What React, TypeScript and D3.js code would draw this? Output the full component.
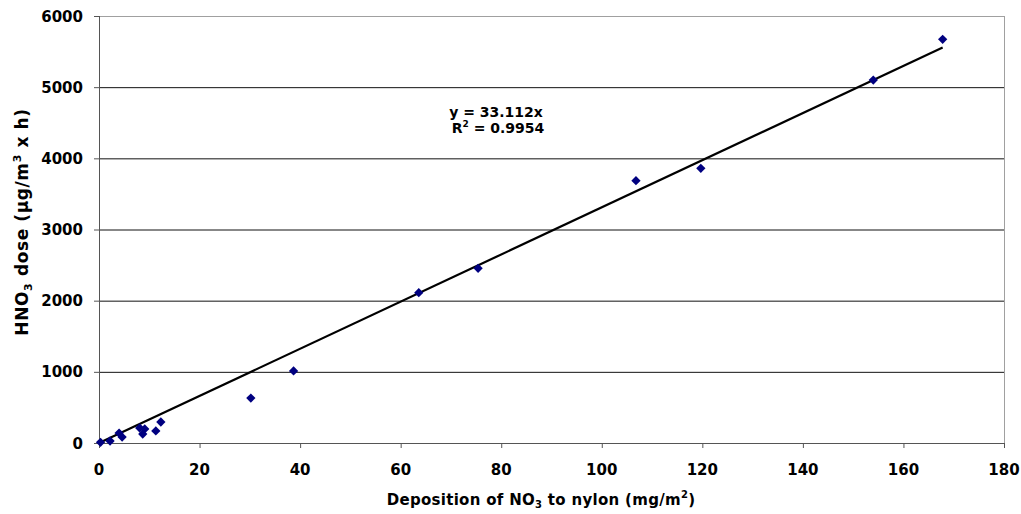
import React, { useEffect, useRef } from "react";
import * as d3 from "d3";

const depositionX = [0.3, 2.2, 4.0, 4.6, 8.1, 9.1, 8.7, 11.3, 12.3, 30.2, 38.7, 63.6, 75.4, 106.8, 119.7, 154.0, 167.8];
const doseY = [10, 28, 140, 84, 211, 197, 126, 169, 295, 632, 1012, 2112, 2455, 3686, 3860, 5100, 5672];
const slope = 33.112;
const xTicks = [0, 20, 40, 60, 80, 100, 120, 140, 160, 180];
const yTicks = [0, 1000, 2000, 3000, 4000, 5000, 6000];

const W = 1021, H = 514;
const FONT = "'DejaVu Sans', Verdana, sans-serif";

export default function App() {
  const ref = useRef<SVGSVGElement>(null);
  useEffect(() => {
    const svg = d3.select(ref.current);
    svg.selectAll("*").remove();
    const x = d3.scaleLinear().domain([0, 180]).range([99, 1004]);
    const y = d3.scaleLinear().domain([0, 6000]).range([443, 16]);

    // gridlines
    svg.append("g").selectAll("line").data(yTicks.filter(t => t > 0)).join("line")
      .attr("x1", x(0)).attr("x2", x(180))
      .attr("y1", d => y(d) + 0.5).attr("y2", d => y(d) + 0.5)
      .attr("stroke", d => d === 6000 ? "#a0a0a0" : "#111").attr("stroke-width", 1);
    // right border
    svg.append("line").attr("x1", x(180) + 0.5).attr("x2", x(180) + 0.5)
      .attr("y1", y(6000)).attr("y2", y(0)).attr("stroke", "#a0a0a0");

    // y axis
    const ya = svg.append("g");
    ya.append("line").attr("x1", x(0) + 0.5).attr("x2", x(0) + 0.5)
      .attr("y1", y(6000)).attr("y2", y(0)).attr("stroke", "#555");
    ya.selectAll("line.t").data(yTicks).join("line").attr("class", "t")
      .attr("x1", x(0) - 5).attr("x2", x(0))
      .attr("y1", d => y(d) + 0.5).attr("y2", d => y(d) + 0.5).attr("stroke", "#555");
    ya.selectAll("text").data(yTicks).join("text")
      .attr("x", 83).attr("y", d => y(d) + 5.5)
      .attr("text-anchor", "end").attr("font-family", FONT).attr("font-weight", "bold")
      .attr("font-size", 15).attr("fill", "#000").text(d => String(d));

    // x axis
    const xa = svg.append("g");
    xa.append("line").attr("x1", x(0)).attr("x2", x(180))
      .attr("y1", y(0) + 0.5).attr("y2", y(0) + 0.5).attr("stroke", "#555");
    xa.selectAll("line.t").data(xTicks).join("line").attr("class", "t")
      .attr("x1", d => x(d) + 0.5).attr("x2", d => x(d) + 0.5)
      .attr("y1", y(0)).attr("y2", y(0) + 5).attr("stroke", "#555");
    xa.selectAll("text").data(xTicks).join("text")
      .attr("x", d => x(d)).attr("y", 475)
      .attr("text-anchor", "middle").attr("font-family", FONT).attr("font-weight", "bold")
      .attr("font-size", 15).attr("fill", "#000").text(d => String(d));

    // trendline
    const xmax = d3.max(depositionX) as number;
    svg.append("line")
      .attr("x1", x(0)).attr("y1", y(0))
      .attr("x2", x(xmax)).attr("y2", y(slope * xmax))
      .attr("stroke", "#000").attr("stroke-width", 2.2);

    // points
    const pts = depositionX.map((v, i) => [v, doseY[i]]);
    svg.append("g").selectAll("path").data(pts).join("path")
      .attr("d", d3.symbol().type(d3.symbolDiamond2).size(55)() as string)
      .attr("transform", d => `translate(${x(d[0])},${y(d[1])})`)
      .attr("fill", "#000080");

    // equation
    const eq = svg.append("text").attr("font-family", FONT).attr("font-weight", "bold")
      .attr("font-size", 14).attr("text-anchor", "middle").attr("fill", "#000");
    eq.append("tspan").attr("x", 496).attr("y", 117).text("y = 33.112x");
    const r = svg.append("text").attr("font-family", FONT).attr("font-weight", "bold")
      .attr("font-size", 14).attr("text-anchor", "middle").attr("fill", "#000")
      .attr("x", 498).attr("y", 133);
    r.append("tspan").text("R");
    r.append("tspan").attr("font-size", 9).attr("dy", -6).text("2");
    r.append("tspan").attr("dy", 6).text(" = 0.9954");

    // x title
    const xt = svg.append("text").attr("font-family", FONT).attr("font-weight", "bold")
      .attr("font-size", 15).attr("text-anchor", "middle").attr("fill", "#000")
      .attr("letter-spacing", 0.3)
      .attr("x", 541).attr("y", 505);
    xt.append("tspan").text("Deposition of NO");
    xt.append("tspan").attr("font-size", 10).attr("dy", 3).text("3");
    xt.append("tspan").attr("dy", -3).text(" to nylon (mg/m");
    xt.append("tspan").attr("font-size", 10).attr("dy", -7).text("2");
    xt.append("tspan").attr("dy", 7).text(")");

    // y title
    const yt = svg.append("text").attr("font-family", FONT).attr("font-weight", "bold")
      .attr("font-size", 17).attr("text-anchor", "middle").attr("fill", "#000")
      .attr("letter-spacing", 0.6)
      .attr("transform", `translate(28,222) rotate(-90)`);
    yt.append("tspan").text("HNO");
    yt.append("tspan").attr("font-size", 11).attr("dy", 4).text("3");
    yt.append("tspan").attr("dy", -4).text(" dose (\u00b5g/m");
    yt.append("tspan").attr("font-size", 11).attr("dy", -7).text("3");
    yt.append("tspan").attr("dy", 7).text(" x h)");
  }, []);
  return (
    <svg ref={ref} width={W} height={H}
      style={{ position: "absolute", left: 0, top: 0, background: "#fff" }} />
  );
}
